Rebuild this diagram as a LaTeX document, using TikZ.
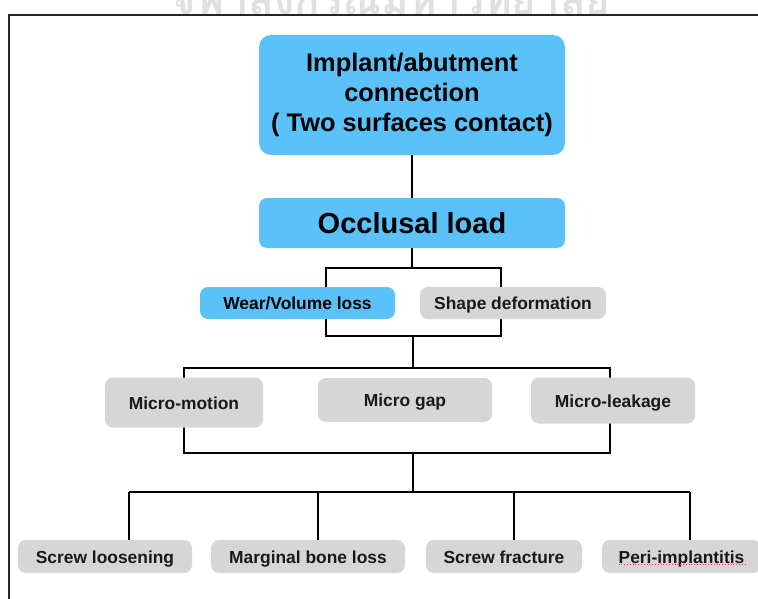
\documentclass[tikz,border=0pt]{standalone}
\usepackage{fontspec}
\setmainfont{Liberation Sans}
\newfontfamily\thaifont[Script=Thai]{Loma}
\usepackage{tikz}

\definecolor{skyblue}{HTML}{5AC1F9}
\definecolor{boxgrey}{HTML}{D6D6D6}
\definecolor{markgrey}{HTML}{E0E0E0}

\tikzset{
	box/.style={rounded corners=8pt, inner sep=0pt, align=center, text height=13pt, text depth=0pt,
		font=\bfseries\fontsize{17.4}{20}\selectfont},
	bluebox/.style={box, fill=skyblue, text=black},
	greybox/.style={box, fill=boxgrey, text=black!90},
	link/.style={line width=1.8pt, black},
}

\begin{document}
\begin{tikzpicture}[x=1pt,y=-1pt]
		\clip (0,0) rectangle (758,599);
		\fill[white] (0,0) rectangle (758,599);
		
		\node[anchor=base, text=markgrey, font=\thaifont\bfseries\fontsize{42}{42}\selectfont] (mark) at (391,15) {จุฬาลงกรณ์มหาวิทยาลัย};
		\fill[white] (0,15) rectangle (758,599);
		\draw[line width=1.8pt, black!85] (9,599) -- (9,15) -- (758,15);
		
		% brackets behind the boxes
		\coordinate (ba) at (326,268);
		\coordinate (bb) at (501,336);
		\coordinate (bc) at (413,336);
		\coordinate (ma) at (184,368);
		\coordinate (mb) at (610,453);
		\coordinate (mc) at (413,453);
		\coordinate (ha) at (129,492);
		\coordinate (hb) at (318,492);
		\coordinate (hc) at (514,492);
		\coordinate (hd) at (690,492);
		\draw[link] (ba) rectangle (bb);
		\draw[link] (ma) rectangle (mb);
		\draw[link] (bc) -- (bc |- ma);
		\draw[link] (mc) -- (mc |- ha);
		\draw[link] (ha) -- (hd);
		
		\node[bluebox, rounded corners=12pt, minimum width=306pt, minimum height=120pt, text height=, text depth=,
			font=\bfseries\fontsize{25.4}{30}\selectfont] (conn) at (412,95)
			{Implant/abutment\\connection\\( Two surfaces contact)};
		\node[bluebox, minimum width=306pt, minimum height=50pt, text height=21pt,
			font=\bfseries\fontsize{29}{32}\selectfont] (load) at (412,223) {Occlusal load};
		
		\node[bluebox, minimum width=195pt, minimum height=32pt] (wear) at (297.5,303) {Wear/Volume loss};
		\node[greybox, minimum width=186pt, minimum height=32pt] (shape) at (513,303) {Shape deformation};
		
		\node[greybox, minimum width=158pt, minimum height=50pt] (motion) at (184,402.5) {Micro-motion};
		\node[greybox, minimum width=174pt, minimum height=44pt] (gap) at (405,400) {Micro gap};
		\node[greybox, minimum width=164pt, minimum height=46pt] (leak) at (613,400.5) {Micro-leakage};
		
		\node[greybox, minimum width=174pt, minimum height=33pt] (loose) at (105,556.5) {Screw loosening};
		\node[greybox, minimum width=194pt, minimum height=33pt] (bone) at (308,556.5) {Marginal bone loss};
		\node[greybox, minimum width=156pt, minimum height=33pt] (fract) at (504,556.5) {Screw fracture};
		\node[greybox, minimum width=159pt, minimum height=33pt] (peri) at (681.5,556.5) {Peri-implantitis};
		
		\draw[link] (conn.south) -- (load.north);
		\draw[link] (load.south) -- (load.south |- ba);
		\draw[link] (ha) -- (ha |- loose.north);
		\draw[link] (hb) -- (hb |- bone.north);
		\draw[link] (hc) -- (hc |- fract.north);
		\draw[link] (hd) -- (hd |- peri.north);
		
		% spell-check underline
		\draw[red!80, dotted, line width=0.8pt] ([xshift=-63pt,yshift=-8pt]peri.center) -- ([xshift=64pt,yshift=-8pt]peri.center);
\end{tikzpicture}
\end{document}
